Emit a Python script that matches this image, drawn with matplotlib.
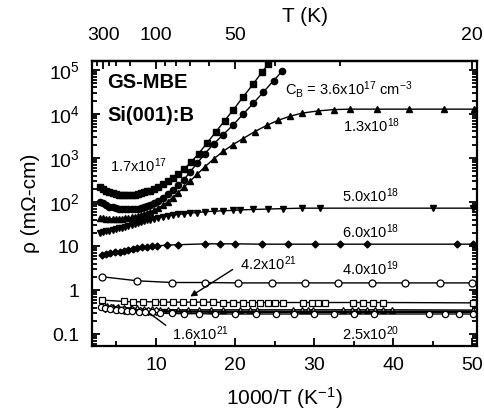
import matplotlib
matplotlib.use("Agg")
import matplotlib.pyplot as plt
from matplotlib.ticker import FixedLocator, FixedFormatter, LogLocator, NullFormatter, MultipleLocator

plt.rcParams['font.family'] = ['Liberation Sans', 'DejaVu Sans']
plt.rcParams['mathtext.default'] = 'regular'

# ---------------- data ----------------
x_17a = [2.9,3.3,3.7,4.1,4.5,4.9,5.3,5.7,6.1,6.5,6.9,7.3,7.7,8.1,8.5,8.9,9.3,9.8,10.3,10.9,11.5,12.1,12.8,13.5,14.4,15.4,16.5,17.6,18.7,19.8,21.0,22.3,23.4,24.2]
r_17a = [224,200,182,166,158,151,145,141,141,141,145,148,151,158,166,174,182,200,219,251,295,347,427,550,794,1259,2239,3981,7079,12590,23990,47860,89130,134900]

x_17b = [2.9,3.3,3.7,4.1,4.5,4.9,5.3,5.7,6.1,6.5,6.9,7.3,7.7,8.1,8.5,8.9,9.3,9.8,10.3,10.9,11.5,12.1,12.8,13.5,14.3,15.2,16.2,17.3,18.5,19.7,21.0,22.3,23.6,24.9,26.0]
r_17b = [102,93,85,79,76,72,69,68,68,68,68,69,71,74,78,81,87,95,107,126,151,186,240,316,479,759,1259,2089,3388,5495,9772,17380,31620,57540,95500]

x_18a = [2.9,3.3,3.7,4.1,4.5,4.9,5.3,5.7,6.1,6.5,6.9,7.3,7.7,8.1,8.5,8.9,9.3,9.8,10.3,10.9,11.5,12.1,12.8,13.5,14.3,15.2,16.2,17.3,18.5,19.7,21.0,22.5,24.0,25.5,27.0,28.5,30.5,32.5,34.5,38.0,42.0,46.5,50.3]
r_18a = [43.7,42.7,41.7,41.7,41.7,41.7,41.7,41.7,42.7,43.7,44.7,45.7,47.9,50.1,52.5,55.0,58.9,64.6,72.4,85.1,102,126,162,214,295,427,631,955,1413,1995,2754,3981,5495,7244,8913,10470,11750,12590,12880,12880,12880,12880,12880]

x_18b = [2.9,3.3,3.7,4.1,4.5,4.9,5.3,5.7,6.1,6.5,6.9,7.3,7.7,8.1,8.5,8.9,9.3,9.8,10.3,10.9,11.5,12.1,12.8,13.5,14.3,15.2,16.2,17.3,18.5,19.7,20.6,22.3,24.2,26.1,28.5,30.8,45.1,50.1]
r_18b = [20.0,20.4,21.4,21.9,22.9,24.0,25.1,26.3,27.5,28.8,30.2,31.6,33.1,34.7,36.3,38.0,39.8,41.7,43.7,45.7,47.9,50.1,52.5,53.7,56.2,57.5,60.3,61.7,63.1,64.6,66.1,67.6,69.2,70.8,72.4,72.4,72.4,72.4]

x_18c = [3.2,3.7,4.2,4.8,5.4,6.0,6.5,7.1,7.6,8.2,8.9,9.5,10.1,11.4,12.8,16.2,18.1,20.0,23.4,26.7,30.1,33.3,36.7,48.1,50.1]
r_18c = [6.3,6.6,6.9,7.2,7.4,7.8,8.1,8.5,8.9,9.3,9.5,9.8,10.0,10.5,10.7,11.2,11.2,11.2,11.0,11.0,11.0,11.0,11.0,11.0,11.0]

x_19 = [3.2,7.6,12.0,16.2,20.4,24.7,28.9,33.0,37.3,41.5,46.0,50.0]
r_19 = [2.0,1.62,1.48,1.48,1.45,1.45,1.45,1.45,1.45,1.45,1.45,1.45]

x_21a = [3.2,5.9,7.1,8.4,9.9,10.9,12.1,13.4,14.7,15.9,17.2,18.5,19.7,21.0,22.2,23.2,24.2,25.1,26.1,28.6,29.7,30.5,31.4,34.9,36.2,37.5,38.7,50.1]
r_21a = [0.59,0.55,0.54,0.54,0.54,0.53,0.53,0.53,0.53,0.53,0.53,0.52,0.52,0.52,0.52,0.52,0.52,0.52,0.52,0.52,0.52,0.52,0.52,0.52,0.52,0.52,0.52,0.51]

x_21b = [3.2,3.8,4.5,5.2,6.0,6.8,7.6,8.5,9.5,10.5,11.5,12.8,14.0,15.5,17.0,18.5,20.6,21.9,22.8,27.3,28.5,29.2,29.9,33.7,34.8,35.6,36.7,37.7,38.7,39.9,50.1]
r_21b = [0.44,0.43,0.42,0.41,0.40,0.39,0.38,0.37,0.365,0.36,0.36,0.355,0.355,0.355,0.355,0.355,0.355,0.355,0.355,0.355,0.355,0.355,0.355,0.355,0.355,0.355,0.355,0.355,0.355,0.355,0.35]

x_21c = [3.5,4.3,5.1,6.0,7.0,8.0,9.0,10.0,12.0,20.0,30.0,40.0,50.3]
r_21c = [0.40,0.38,0.37,0.36,0.35,0.34,0.335,0.33,0.325,0.32,0.32,0.32,0.32]

x_20 = [3.0,3.6,4.2,4.9,5.6,6.3,7.0,7.8,8.6,9.5,10.5,12.0,13.5,15.5,17.5,20.0,22.6,25.2,27.5,30.0,32.5,35.0,37.6,44.5,46.6,48.3,50.1]
r_20 = [0.41,0.39,0.37,0.36,0.35,0.34,0.33,0.32,0.315,0.31,0.30,0.295,0.29,0.29,0.285,0.285,0.285,0.285,0.285,0.285,0.285,0.285,0.285,0.285,0.285,0.285,0.285]

y_ticks = [0.1, 1, 10, 1e2, 1e3, 1e4, 1e5]
y_labels = ['0.1', '1', '10', '10$^2$', '10$^3$', '10$^4$', '10$^5$']
x_ticks = [10, 20, 30, 40, 50]
top_T = [300, 100, 50, 20]
top_T_minor = [400, 250, 200, 150, 90, 80, 70, 60, 40, 30]

# ---------------- figure ----------------
W, H = 485, 417
fig = plt.figure(figsize=(W/100, H/100), dpi=100)
ax = fig.add_axes([92/W, 1-346/H, 385/W, 285/H])
ax.set_yscale('log')
ax.set_xlim(1.9, 50.63)
ax.set_ylim(0.0534, 1.6e5)

lw = 1.0
ax.plot(x_17a, r_17a, '-', color='black', lw=lw, marker='s', ms=4.5, mfc='black', mec='black')
ax.plot(x_17b, r_17b, '-', color='black', lw=lw, marker='o', ms=4.5, mfc='black', mec='black')
ax.plot(x_18a, r_18a, '-', color='black', lw=lw, marker='^', ms=4.5, mfc='black', mec='black')
ax.plot(x_18b, r_18b, '-', color='black', lw=lw, marker='v', ms=4.5, mfc='black', mec='black')
ax.plot(x_18c, r_18c, '-', color='black', lw=lw, marker='D', ms=3.5, mfc='black', mec='black')
ax.plot(x_19, r_19, '-', color='black', lw=lw, marker='o', ms=5, mfc='white', mec='black', mew=0.9)
ax.plot(x_21a, r_21a, '-', color='black', lw=lw, marker='s', ms=5, mfc='white', mec='black', mew=0.9)
ax.plot(x_21b, r_21b, '-', color='black', lw=lw, marker='^', ms=5, mfc='white', mec='black', mew=0.9)
ax.plot(x_21c, r_21c, '-', color='black', lw=1.8, marker='D', ms=4.5, mfc='white', mec='black', mew=0.9,
        markevery=slice(0, 8))
ax.plot(x_20, r_20, '-', color='black', lw=lw, marker='o', ms=4.5, mfc='white', mec='black', mew=0.9)

# axes styling
for s in ax.spines.values():
    s.set_linewidth(1.6)
ax.yaxis.set_major_locator(FixedLocator(y_ticks))
ax.yaxis.set_major_formatter(FixedFormatter(y_labels))
ax.yaxis.set_minor_locator(LogLocator(base=10, subs=range(2, 10), numticks=20))
ax.yaxis.set_minor_formatter(NullFormatter())
ax.xaxis.set_major_locator(FixedLocator(x_ticks))
ax.xaxis.set_minor_locator(MultipleLocator(5))
ax.tick_params(which='both', direction='in', top=False, right=True, width=1.3)
ax.tick_params(which='major', length=6, labelsize=14)
ax.tick_params(which='minor', length=3.5)
ax.tick_params(axis='y', which='major', pad=9)
ax.tick_params(axis='x', which='major', pad=8)

sec = ax.secondary_xaxis('top', functions=(lambda x: 1000.0/x, lambda t: 1000.0/t))
sec.xaxis.set_major_locator(FixedLocator(top_T))
sec.xaxis.set_major_formatter(FixedFormatter([str(t) for t in top_T]))
sec.xaxis.set_minor_locator(FixedLocator(top_T_minor))
sec.tick_params(which='both', direction='in', width=1.3)
sec.tick_params(which='major', length=6, labelsize=14, pad=12)
sec.tick_params(which='minor', length=3.5)
sec.spines['top'].set_linewidth(1.6)
sec.set_xlabel('T (K)', fontsize=15, labelpad=4)
sec.xaxis.label.set_x(0.553)

ax.set_xlabel('1000/T (K$^{-1}$)', fontsize=15, labelpad=8)
ax.set_ylabel('ρ (mΩ-cm)', fontsize=15, labelpad=6)

# text annotations
ax.text(0.039, 0.926, 'GS-MBE', transform=ax.transAxes, fontsize=14.5, fontweight='bold', va='center')
ax.text(0.039, 0.81, 'Si(001):B', transform=ax.transAxes, fontsize=14.5, fontweight='bold', va='center')
fs = 10.5
ax.text(0.047, 0.611, '1.7x10$^{17}$', transform=ax.transAxes, fontsize=fs, va='baseline')
ax.text(0.501, 0.881, 'C$_B$ = 3.6x10$^{17}$ cm$^{-3}$', transform=ax.transAxes, fontsize=fs, va='baseline')
ax.text(0.652, 0.751, '1.3x10$^{18}$', transform=ax.transAxes, fontsize=fs, va='baseline')
ax.text(0.649, 0.505, '5.0x10$^{18}$', transform=ax.transAxes, fontsize=fs, va='baseline')
ax.text(0.649, 0.379, '6.0x10$^{18}$', transform=ax.transAxes, fontsize=fs, va='baseline')
ax.text(0.649, 0.249, '4.0x10$^{19}$', transform=ax.transAxes, fontsize=fs, va='baseline')
ax.text(0.649, 0.021, '2.5x10$^{20}$', transform=ax.transAxes, fontsize=fs, va='baseline')
ax.text(0.384, 0.267, '4.2x10$^{21}$', transform=ax.transAxes, fontsize=fs, va='baseline')
ax.text(0.208, 0.021, '1.6x10$^{21}$', transform=ax.transAxes, fontsize=fs, va='baseline')

ax.annotate('', xy=((188-92)/385, (346-298)/285), xycoords='axes fraction',
            xytext=((235-92)/385, (346-268)/285), textcoords='axes fraction',
            arrowprops=dict(arrowstyle='-|>', color='black', lw=1.0, mutation_scale=9))
ax.annotate('', xy=((148-92)/385, (346-312)/285), xycoords='axes fraction',
            xytext=((168-92)/385, (346-327)/285), textcoords='axes fraction',
            arrowprops=dict(arrowstyle='-', color='black', lw=1.0))

fig.savefig('out.png', dpi=100)
